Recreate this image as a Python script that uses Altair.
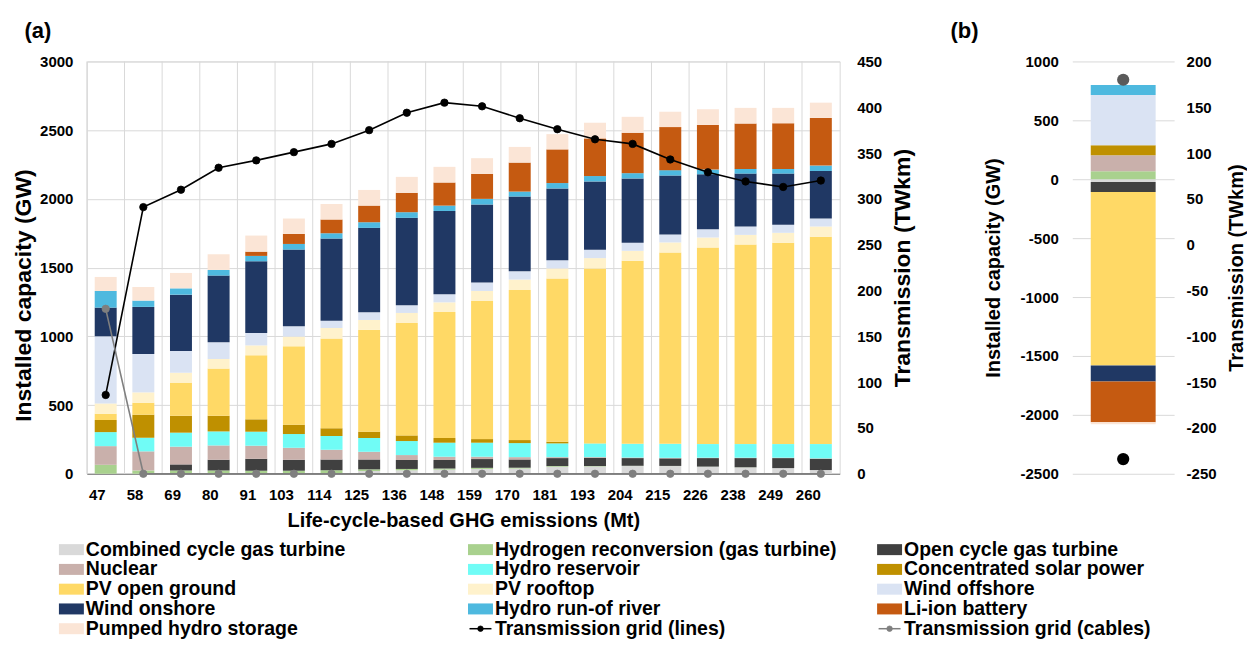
import altair as alt
import pandas as pd

# ---------------- data ----------------
emissions = [47, 58, 69, 80, 91, 103, 114, 125, 136, 148, 159, 170, 181, 193, 204, 215, 226, 238, 249, 260]

technologies = [
    "Combined cycle gas turbine", "Hydrogen reconversion (gas turbine)", "Open cycle gas turbine",
    "Nuclear", "Hydro reservoir", "Concentrated solar power",
    "PV open ground", "PV rooftop", "Wind offshore",
    "Wind onshore", "Hydro run-of river", "Li-ion battery",
    "Pumped hydro storage",
]
tech_colors = ["#d9d9d9", "#a9d18e", "#404040", "#c9b0ab", "#70fcf6", "#bf9000",
               "#ffd966", "#fff2cc", "#dae3f3", "#203864", "#4eb9df", "#c55a11", "#fbe5d6"]
transmission_series = ["Transmission grid (lines)", "Transmission grid (cables)"]
transmission_colors = ["#000000", "#7f7f7f"]

ccgt = [0, 0, 0, 0, 0, 0, 5, 20, 25, 30, 35, 38, 51, 53, 56, 56, 51, 46, 41, 27]
hydrogen = [65, 24, 24, 24, 22, 22, 20, 12, 10, 8, 8, 6, 5, 3, 2, 1, 1, 1, 0, 0]
ocgt = [0, 0, 44, 78, 87, 80, 79, 72, 65, 62, 64, 60, 58, 60, 56, 55, 62, 67, 73, 82]
nuclear = [136, 139, 129, 104, 95, 87, 71, 56, 36, 24, 17, 17, 7, 5, 4, 4, 3, 3, 3, 3]
hydro_reservoir = [102, 99, 102, 102, 102, 100, 99, 100, 102, 102, 102, 102, 100, 100, 100, 102, 99, 99, 99, 104]
csp = [88, 168, 123, 114, 90, 68, 58, 46, 41, 34, 26, 22, 12, 0, 0, 0, 0, 0, 0, 0]
pv_open = [46, 87, 241, 343, 466, 570, 653, 742, 818, 917, 1005, 1092, 1188, 1273, 1332, 1392, 1430, 1452, 1464, 1508]
pv_rooftop = [75, 75, 72, 70, 72, 71, 76, 71, 73, 70, 73, 76, 73, 75, 72, 73, 73, 70, 73, 75]
wind_offshore = [488, 279, 158, 121, 90, 75, 53, 56, 56, 59, 61, 60, 60, 61, 59, 58, 60, 61, 58, 58]
wind_onshore = [209, 343, 410, 486, 522, 558, 597, 614, 636, 606, 568, 544, 522, 497, 468, 429, 400, 385, 373, 346]
hydro_ror = [121, 46, 46, 41, 39, 41, 39, 41, 41, 39, 41, 36, 39, 39, 38, 39, 34, 34, 34, 39]
li_ion = [0, 0, 0, 0, 31, 73, 99, 121, 141, 168, 182, 211, 245, 274, 294, 313, 325, 330, 332, 347]
pumped_hydro = [102, 99, 112, 114, 117, 112, 114, 114, 116, 114, 114, 114, 111, 114, 116, 112, 114, 114, 112, 111]

lines_twkm = [86, 291, 310, 334, 342, 351, 360, 375, 394, 405, 401, 388, 376, 365, 360, 343, 329, 319, 313, 320]
cables_twkm = [180, 0, 0, 0, 0, 0, 0, 0, 0, 0, 0, 0, 0, 0, 0, 0, 0, 0, 0, 0]

# panel (b): difference 47 Mt minus 260 Mt
diff_capacity = [-23, 68, -85, 136, 0, 85, -1473, 0, 425, -136, 85, -346, -17]
diff_lines = -234
diff_cables = 180

# ---------------- tables ----------------
series = [ccgt, hydrogen, ocgt, nuclear, hydro_reservoir, csp, pv_open, pv_rooftop,
          wind_offshore, wind_onshore, hydro_ror, li_ion, pumped_hydro]
emis_labels = [str(e) for e in emissions]

rows = []
for ti, (name, vals) in enumerate(zip(technologies, series)):
    for e, v in zip(emis_labels, vals):
        rows.append({"emis": e, "tech": name, "value": v, "idx": ti})
df_a = pd.DataFrame(rows)

trows = []
for name, vals in zip(transmission_series, [lines_twkm, cables_twkm]):
    for e, v in zip(emis_labels, vals):
        trows.append({"emis": e, "series": name, "value": v})
df_t = pd.DataFrame(trows)

df_grid = pd.DataFrame({"emis": emis_labels})

df_b = pd.DataFrame({"col": "b", "tech": technologies, "value": diff_capacity,
                     "idx": list(range(len(technologies)))})
df_bt = pd.DataFrame({"col": "b", "series": transmission_series, "value": [diff_lines, diff_cables]})

# legend entries, read row by row (3 columns)
legend_names = technologies + transmission_series
df_leg = pd.DataFrame({"name": legend_names,
                       "col": [i % 3 for i in range(len(legend_names))],
                       "row": [i // 3 for i in range(len(legend_names))]})
df_leg_bars = df_leg[df_leg["name"].isin(technologies)]
df_leg_trans = df_leg[df_leg["name"].isin(transmission_series)]

bar_scale = alt.Scale(domain=technologies, range=tech_colors)
trans_scale = alt.Scale(domain=transmission_series, range=transmission_colors)

FONT = "Liberation Sans"
PLAIN = "datum.value + ''"

# ---------------- panel (a) ----------------
x_a = alt.X("emis:N", sort=emis_labels,
            scale=alt.Scale(paddingInner=0, paddingOuter=0),
            axis=alt.Axis(title="Life-cycle-based GHG emissions (Mt)", labelAngle=0,
                          labelFontSize=15, titleFontSize=20, ticks=False,
                          domainColor="#767676", labelPadding=21, titlePadding=8, grid=False))

grid_a = alt.Chart(df_grid).mark_rule(color="#d9d9d9", strokeWidth=1).encode(
    x=alt.X("emis:N", sort=emis_labels, bandPosition=0),
    y=alt.value(0), y2=alt.value(413))

bars_a = alt.Chart(df_a).mark_bar(size=22).encode(
    x=x_a,
    y=alt.Y("value:Q", stack="zero",
            scale=alt.Scale(domain=[0, 3000], nice=False),
            axis=alt.Axis(orient="left", values=list(range(0, 3001, 500)), labelExpr=PLAIN,
                          title="Installed capacity (GW)", titleFontSize=23, titleY=234,
                          labelFontSize=15, labelPadding=14, titlePadding=4,
                          domain=False, ticks=False, gridColor="#d9d9d9")),
    color=alt.Color("tech:N", scale=bar_scale, legend=None),
    order=alt.Order("idx:Q", sort="ascending"),
)

y_t = alt.Y("value:Q", scale=alt.Scale(domain=[0, 450], nice=False),
            axis=alt.Axis(orient="right", values=list(range(0, 451, 50)), labelExpr=PLAIN,
                          title="Transmission (TWkm)", titleFontSize=23,
                          titleAngle=270, titleBaseline="top",
                          labelFontSize=15, labelPadding=17, titlePadding=10,
                          domain=False, ticks=False, grid=False))

line_a = alt.Chart(df_t).mark_line(strokeWidth=1.6).encode(
    x=alt.X("emis:N", sort=emis_labels), y=y_t,
    stroke=alt.Stroke("series:N", scale=trans_scale, legend=None))
pts_a = alt.Chart(df_t).mark_point(size=55, opacity=1, filled=False, strokeWidth=0.8).encode(
    x=alt.X("emis:N", sort=emis_labels), y=y_t,
    stroke=alt.Stroke("series:N", scale=trans_scale, legend=None),
    fill=alt.Fill("series:N", scale=trans_scale, legend=None))
trans_a = alt.layer(line_a, pts_a)

label_a = alt.Chart(pd.DataFrame({"t": ["(a)"]})).mark_text(
    fontSize=22, fontWeight="bold", font=FONT, align="center", baseline="middle", color="black"
).encode(text="t:N", x=alt.value(-49), y=alt.value(-30))

plot_a = alt.layer(grid_a, bars_a, trans_a, label_a).resolve_scale(y="independent")

# legend (3 columns x 5 rows below panel a)
lx = alt.X("col:Q", scale=alt.Scale(domain=[0, 2], range=[-15.5, 804], zero=False, nice=False), axis=None)
ly = alt.Y("row:Q", scale=alt.Scale(domain=[0, 4], range=[489, 568.2], zero=False, nice=False), axis=None)

leg_rect = alt.Chart(df_leg_bars).mark_point(
    shape="M-1,-0.44H1V0.44H-1Z", size=625, filled=True, opacity=1, strokeWidth=0
).encode(x=lx, y=ly, color=alt.Color("name:N", scale=bar_scale, legend=None))
leg_line = alt.Chart(df_leg_trans).mark_point(
    shape="M-1,0H1", size=484, filled=False, opacity=1, strokeWidth=1.5
).encode(x=lx, y=ly, stroke=alt.Stroke("name:N", scale=trans_scale, legend=None))
leg_dot = alt.Chart(df_leg_trans).mark_point(size=30, filled=False, opacity=1, strokeWidth=0.8).encode(
    x=lx, y=ly, stroke=alt.Stroke("name:N", scale=trans_scale, legend=None),
    fill=alt.Fill("name:N", scale=trans_scale, legend=None))
leg_text = alt.Chart(df_leg).mark_text(
    align="left", baseline="middle", dx=14.5, fontSize=19.5, fontWeight="bold", font=FONT, color="black"
).encode(x=lx, y=ly, text="name:N")
legend_a = alt.layer(leg_rect, leg_line, leg_dot, leg_text)

panel_a = alt.layer(plot_a, legend_a).resolve_scale(x="independent", y="independent").properties(
    width=754, height=413, view=alt.ViewBackground(stroke="#d9d9d9"))

# ---------------- panel (b) ----------------
x_b = alt.X("col:N", axis=None, scale=alt.Scale(paddingInner=0, paddingOuter=0))
bars_b = alt.Chart(df_b).mark_bar(size=65).encode(
    x=x_b,
    y=alt.Y("value:Q", stack="zero", scale=alt.Scale(domain=[-2500, 1000], nice=False),
            axis=alt.Axis(orient="left", values=list(range(-2500, 1001, 500)), labelExpr=PLAIN,
                          title="Installed capacity (GW)", titleFontSize=20,
                          labelFontSize=15, labelPadding=14, titlePadding=17,
                          domain=False, ticks=False, gridColor="#d9d9d9")),
    color=alt.Color("tech:N", scale=bar_scale, legend=None),
    order=alt.Order("idx:Q", sort="ascending"),
)
pts_b = alt.Chart(df_bt).mark_circle(size=150, opacity=1).encode(
    x=x_b,
    y=alt.Y("value:Q", scale=alt.Scale(domain=[-250, 200], nice=False),
            axis=alt.Axis(orient="right", values=list(range(-250, 201, 50)), labelExpr=PLAIN,
                          title="Transmission (TWkm)", titleFontSize=20,
                          titleAngle=270, titleBaseline="top",
                          labelFontSize=15, labelPadding=12, titlePadding=10,
                          domain=False, ticks=False, grid=False)),
    fill=alt.Fill("series:N", scale=alt.Scale(domain=transmission_series, range=["#000000", "#5a5a5a"]), legend=None),
)
label_b = alt.Chart(pd.DataFrame({"t": ["(b)"]})).mark_text(
    fontSize=22, fontWeight="bold", font=FONT, align="center", baseline="middle", color="black"
).encode(text="t:N", x=alt.value(-108), y=alt.value(-30))

panel_b = alt.layer(bars_b, pts_b, label_b).resolve_scale(y="independent").properties(
    width=102, height=413)

chart = alt.hconcat(panel_a, panel_b, spacing=233, bounds="flush").resolve_scale(
    color="independent", fill="independent", stroke="independent"
).properties(
    padding={"left": 4, "top": 11, "right": 0, "bottom": 0}
).configure(font=FONT).configure_axis(
    labelFont=FONT, titleFont=FONT, labelFontWeight="bold", titleFontWeight="bold",
    labelColor="black", titleColor="black"
).configure_view(stroke=None)

chart.save("out.html", embed_options={"renderer": "svg", "actions": False})
